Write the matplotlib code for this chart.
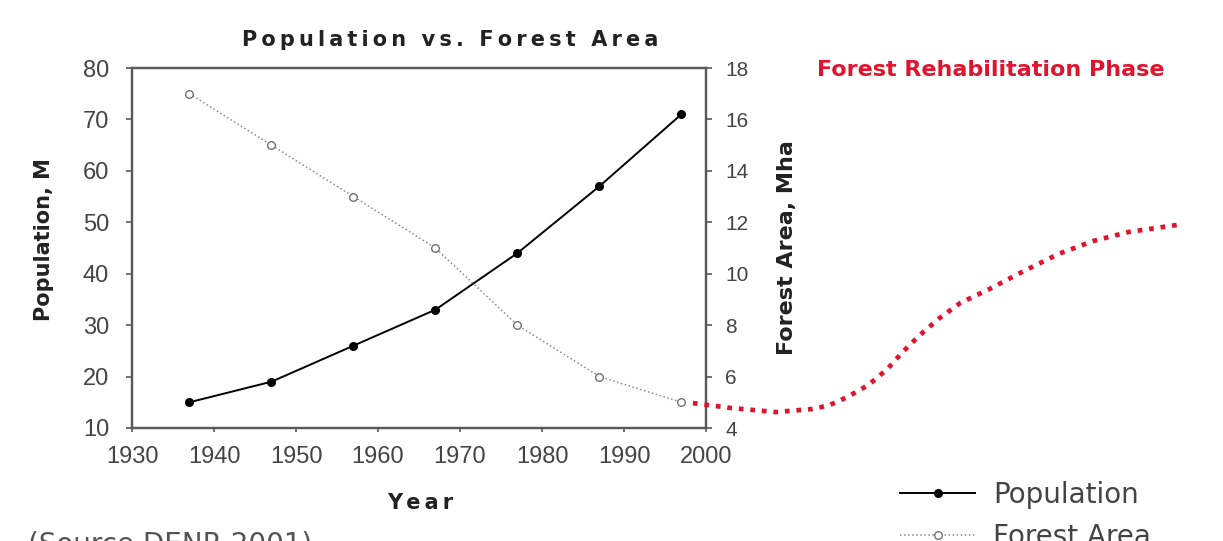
import matplotlib.pyplot as plt

# Population (M) and forest area (Mha)
years = [1937, 1947, 1957, 1967, 1977, 1987, 1997]
population = [15, 19, 26, 33, 44, 57, 71]
forest_area = [17, 15, 13, 11, 8, 6, 5]

# red dotted "rehabilitation" curve drawn past the right edge of the axes
rehab_years = [1998.4, 2003, 2008.5, 2013, 2015, 2017.2, 2019.8, 2022.1, 2024,
               2026.1, 2028.5, 2031, 2034.6, 2038.8, 2043, 2047.2, 2051.5, 2058.2]
rehab_area = [4.97, 4.78, 4.62, 4.74, 4.88, 5.2, 5.67, 6.29, 6.96,
              7.62, 8.28, 8.86, 9.41, 10.11, 10.77, 11.27, 11.62, 11.93]

left_ticks = [10, 20, 30, 40, 50, 60, 70, 80]
right_ticks = [4, 6, 8, 10, 12, 14, 16, 18]
x_ticks = [1930, 1940, 1950, 1960, 1970, 1980, 1990, 2000]

W, H = 1223, 541
AX_GRAY = '#5a5a5a'
TXT_GRAY = '#444444'
RED = '#e0142e'


def spaced(s):
    # poor man's letter spacing
    return '\u2009'.join(s)


fig = plt.figure(figsize=(W / 100, H / 100), dpi=100)
ax = fig.add_axes((132 / W, 113 / H, 574 / W, 360 / H))
ax2 = ax.twinx()

pop_line, = ax.plot(years, population, color='black', lw=1.4, marker='o',
                    markersize=5.5, markerfacecolor='black', label='Population')
forest_line, = ax2.plot(years, forest_area, color='#8a8a8a', lw=1.1, ls=':',
                        marker='o', markersize=5.5, markerfacecolor='white',
                        markeredgecolor='#707070', markeredgewidth=1.0,
                        label='Forest Area')
ax2.plot(rehab_years, rehab_area, color=RED, lw=3.4, ls=(0, (1, 1.45)),
         dash_capstyle='butt', clip_on=False, zorder=5)

ax.set_xlim(1930, 2000)
ax.set_ylim(10, 80)
ax2.set_ylim(4, 18)
ax.set_xticks(x_ticks)
ax.set_yticks(left_ticks)
ax2.set_yticks(right_ticks)

for a in (ax, ax2):
    for sp in a.spines.values():
        sp.set_color(AX_GRAY)
        sp.set_linewidth(1.6)

ax.tick_params(axis='y', direction='out', length=4.5, width=1.2, color=AX_GRAY,
               pad=12, labelsize=17, labelcolor=TXT_GRAY,
               labelfontfamily='Liberation Sans')
ax.tick_params(axis='x', direction='out', length=3, width=1.2, color=AX_GRAY,
               pad=10, labelsize=17, labelcolor=TXT_GRAY,
               labelfontfamily='Liberation Sans')
ax2.tick_params(axis='y', direction='out', length=4, width=1.2, color=AX_GRAY,
                pad=10, labelsize=15, labelcolor=TXT_GRAY,
                labelfontfamily='Liberation Sans')

# titles and axis labels placed in pixel terms to match the original layout
fig.text(450 / W, 1 - 40 / H, spaced('Population vs. Forest Area'),
         fontsize=15, fontweight='bold', color='#222222',
         ha='center', va='center')
fig.text(44 / W, 1 - 240 / H, 'Population, M', rotation=90, fontsize=15,
         fontweight='bold', color='#222222', ha='center', va='center')
fig.text(787 / W, 1 - 248 / H, 'Forest Area, Mha', rotation=90, fontsize=16,
         fontweight='bold', color='#222222', ha='center', va='center')
fig.text(420 / W, 1 - 503 / H, spaced('Year'), fontsize=15, fontweight='bold',
         color='#222222', ha='center', va='center')
fig.text(991 / W, 1 - 70 / H, 'Forest Rehabilitation Phase', fontsize=16,
         fontweight='bold', color=RED, ha='center', va='center')
# the source note sits half outside the frame in the original
fig.text(28 / W, 1 - 552 / H, '(Source DENR 2001)', fontsize=20,
         color='#555555', ha='left', va='baseline')

fig.legend([pop_line, forest_line], ['Population', 'Forest Area'],
           loc='upper left', bbox_to_anchor=(900 / W, 1 - 481 / H),
           frameon=False, fontsize=20, labelcolor=TXT_GRAY,
           handlelength=2.7, handletextpad=0.65, labelspacing=0.5,
           borderpad=0, borderaxespad=0)

fig.savefig('out.png', dpi=100)
